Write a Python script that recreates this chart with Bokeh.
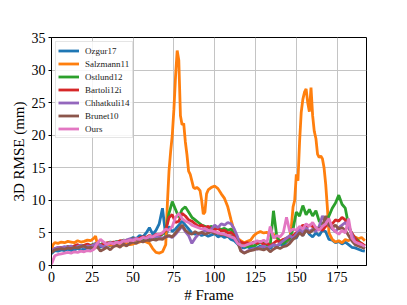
from bokeh.plotting import figure
from bokeh.models import Range1d, Legend, LegendItem, FixedTicker
from bokeh.embed import file_html
from bokeh.resources import INLINE

# ---------------- data ----------------
FRAMES = [0, 2, 4, 6, 8, 10, 12, 14, 16, 18,
          20, 22, 24, 26, 28, 30, 32, 34, 36, 38,
          40, 42, 44, 46, 48, 50, 52, 54, 56, 58,
          60, 62, 64, 66, 68, 70, 72, 74, 76, 78,
          80, 82, 84, 86, 88, 90, 92, 94, 96, 98,
          100, 102, 104, 106, 108, 110, 112, 114, 116, 118,
          120, 122, 124, 126, 128, 130, 132, 134, 136, 138,
          140, 142, 144, 146, 148, 150, 152, 154, 156, 158,
          160, 162, 164, 166, 168, 170, 172, 174, 176, 178,
          180, 182, 184, 186, 188, 190, 192]

ozgur17 = [1.8, 2.3, 2.2, 2.4, 2.3, 2.5, 2.3, 2.4, 2.6, 2.4,
           2.5, 2.7, 2.6, 2.9, 3.2, 2.8, 3.1, 3.3, 3.0, 3.4,
           3.6, 3.5, 3.8, 3.7, 4.0, 4.3, 4.1, 4.6, 4.4, 5.0,
           5.8, 4.8, 5.4, 6.4, 8.8, 4.5, 6.0, 5.2, 5.6, 6.2,
           6.8, 6.2, 5.6, 5.0, 4.8, 5.0, 4.6, 4.8, 4.5, 4.7,
           4.9, 4.4, 4.6, 4.3, 4.5, 4.0, 3.8, 3.3, 2.8, 2.7,
           2.9, 2.6, 2.8, 2.7, 3.0, 2.7, 2.9, 2.6, 3.2, 2.9,
           3.3, 3.1, 3.6, 3.9, 4.4, 4.2, 5.2, 4.6, 5.6, 4.8,
           4.4, 5.0, 4.6, 5.4, 5.2, 4.0, 3.9, 3.5, 3.7, 3.3,
           3.6, 3.2, 2.8, 2.7, 2.5, 2.3, 2.2]

ostlund12 = [2.0, 2.5, 2.6, 2.8, 2.7, 2.9, 2.8, 3.0, 2.9, 3.1,
             3.0, 3.2, 3.1, 3.3, 3.4, 3.2, 3.5, 3.3, 3.6, 3.5,
             3.7, 3.6, 3.9, 3.8, 4.0, 4.1, 3.9, 4.2, 4.0, 4.3,
             4.1, 4.4, 4.2, 4.5, 4.8, 5.5, 8.0, 9.8, 8.6, 7.4,
             8.6, 9.0, 8.2, 7.4, 7.0, 6.6, 6.2, 6.0, 5.8, 6.0,
             5.6, 5.8, 5.5, 5.7, 5.4, 5.6, 4.8, 3.8, 3.2, 3.0,
             2.9, 3.1, 3.0, 3.3, 3.5, 3.4, 3.2, 3.0, 8.4, 4.5,
             3.6, 3.4, 3.8, 4.2, 5.6, 8.2, 7.6, 9.2, 7.8, 8.6,
             7.6, 8.4, 6.8, 6.4, 6.6, 7.6, 8.8, 9.6, 10.8, 9.4,
             8.8, 6.2, 4.8, 4.2, 3.8, 3.3, 3.0]

bartoli12i = [2.2, 2.6, 2.7, 2.8, 2.6, 2.9, 2.8, 3.0, 3.2, 2.9,
              3.1, 3.3, 3.0, 3.2, 3.4, 3.1, 3.3, 3.5, 3.4, 3.6,
              3.5, 3.8, 3.7, 3.9, 3.8, 4.1, 4.0, 4.2, 4.4, 4.3,
              4.6, 4.4, 4.8, 4.6, 5.0, 5.4, 7.4, 7.8, 6.6, 6.8,
              8.0, 7.6, 7.0, 6.8, 6.4, 6.0, 6.2, 5.8, 6.0, 5.6,
              5.5, 5.7, 5.3, 5.4, 5.0, 5.1, 4.6, 4.0, 3.6, 3.4,
              3.5, 3.3, 3.6, 3.4, 3.7, 3.2, 3.5, 3.0, 3.4, 3.8,
              3.6, 4.0, 4.2, 4.4, 4.6, 5.0, 5.4, 6.2, 5.8, 6.2,
              6.0, 5.6, 5.8, 5.4, 6.0, 6.6, 6.4, 7.0, 6.8, 7.4,
              7.0, 5.8, 5.0, 4.2, 3.6, 3.4, 3.0]

chhatkuli14 = [2.3, 2.6, 2.8, 2.7, 2.9, 2.8, 3.0, 2.7, 2.9, 3.1,
               2.8, 3.0, 2.9, 3.2, 3.4, 3.1, 2.8, 3.3, 3.5, 3.4,
               3.6, 3.5, 3.8, 3.9, 4.1, 4.0, 4.2, 3.9, 4.3, 4.1,
               4.4, 4.2, 4.5, 4.3, 4.2, 4.4, 4.5, 4.3, 4.8, 5.4,
               6.0, 5.2, 4.6, 3.4, 4.2, 4.8, 5.0, 5.4, 5.2, 5.6,
               6.2, 5.8, 6.4, 6.2, 6.6, 6.4, 5.6, 4.4, 2.4, 1.9,
               2.2, 2.4, 2.6, 2.5, 2.8, 3.0, 2.7, 2.9, 3.2, 3.0,
               3.4, 3.8, 4.2, 4.6, 4.2, 4.8, 5.6, 5.0, 5.8, 5.2,
               5.6, 5.2, 6.0, 7.6, 6.8, 6.2, 5.6, 5.2, 5.8, 6.2,
               6.6, 6.0, 4.8, 3.6, 3.2, 3.0, 2.6]

brunet10 = [2.0, 2.4, 2.5, 2.6, 2.5, 2.7, 2.6, 2.8, 2.7, 2.9,
            3.0, 2.7, 2.8, 2.6, 2.9, 2.2, 2.5, 2.8, 2.4, 2.9,
            3.1, 2.8, 3.3, 3.0, 3.4, 3.6, 3.4, 3.8, 3.6, 3.9,
            3.8, 4.0, 3.9, 4.1, 4.0, 4.4, 4.6, 4.4, 5.0, 5.6,
            6.2, 5.4, 5.0, 4.8, 5.2, 4.9, 5.1, 4.8, 5.0, 5.2,
            4.9, 5.0, 4.7, 4.8, 4.5, 4.6, 4.2, 3.6, 2.2, 1.9,
            2.1, 2.3, 2.4, 2.6, 2.5, 2.4, 2.6, 2.1, 2.5, 2.8,
            2.6, 2.9, 3.0, 3.4, 4.0, 4.4, 5.0, 4.6, 5.4, 5.0,
            5.4, 5.8, 5.6, 6.0, 7.6, 6.2, 5.8, 6.2, 5.6, 5.8,
            5.4, 4.6, 3.8, 3.2, 3.0, 2.8, 2.6]

ours = [0.2, 1.5, 1.7, 1.8, 1.9, 2.0, 1.9, 2.1, 2.0, 2.2,
        2.1, 2.3, 2.2, 2.5, 3.4, 4.0, 3.6, 3.2, 3.5, 3.3,
        3.6, 3.4, 3.8, 3.7, 3.9, 3.8, 4.1, 4.0, 4.3, 4.2,
        4.5, 4.4, 4.7, 4.8, 5.0, 5.6, 5.4, 6.0, 7.4, 8.0,
        7.2, 6.8, 6.6, 6.2, 6.0, 5.8, 5.6, 5.7, 5.4, 5.3,
        5.2, 5.0, 4.9, 4.8, 4.6, 4.4, 4.2, 3.4, 3.1, 3.0,
        3.2, 3.4, 3.5, 3.8, 3.6, 3.9, 3.5, 6.0, 4.2, 4.6,
        4.4, 5.0, 7.4, 5.2, 5.6, 5.4, 6.0, 5.6, 6.4, 6.0,
        6.6, 5.8, 5.4, 6.0, 6.4, 7.2, 5.8, 5.2, 4.8, 5.4,
        5.0, 7.2, 4.2, 3.6, 3.4, 3.2, 2.9]

salz_frames = [0, 1, 2, 4, 6, 8, 10, 12, 14, 16, 18, 20, 22, 24, 26, 27, 28,
               30, 32, 34, 36, 38, 40, 42, 44, 46, 48, 50, 52, 54, 56, 58,
               60, 62, 64, 66, 68, 70, 71, 72, 73, 74, 75, 76, 77, 78, 79,
               80, 81, 82, 83, 84, 85, 86, 87, 88, 89, 90, 91, 92, 93, 94,
               95, 96, 98, 100, 102, 104, 106, 108, 110, 112, 114, 116, 118,
               120, 122, 124, 126, 128, 130, 132, 134, 136, 138, 140, 142,
               144, 146, 147, 148, 149, 150, 151, 152, 153, 154, 155, 156,
               157, 158, 159, 160, 161, 162, 163, 164, 165, 166, 167, 168,
               169, 170, 172, 174, 176, 178, 180, 182, 184, 186, 188, 190, 192]
salzmann11 = [2.4, 3.2, 3.5, 3.4, 3.6, 3.5, 3.7, 3.6, 3.5, 3.8, 3.6, 3.7, 3.9, 3.8, 4.2, 4.5, 3.4,
              3.2, 3.0, 3.3, 3.1, 3.2, 3.0, 3.3, 3.1, 3.4, 3.2, 3.3, 3.5, 3.6, 3.8, 3.6,
              3.4, 2.6, 2.0, 1.9, 2.1, 3.2, 9.5, 14.5, 17.5, 20.0, 24.0, 29.0, 33.0, 31.5, 23.0,
              21.6, 21.8, 19.0, 17.0, 14.5, 14.0, 13.0, 12.0, 11.8, 12.0, 11.8, 11.5, 10.0, 7.9, 8.2,
              11.0, 11.6, 12.0, 12.2, 11.8, 11.0, 10.3, 9.0, 7.0, 5.2, 4.2, 3.8, 3.5,
              3.7, 3.9, 4.6, 5.0, 5.2, 5.0, 5.1, 4.6, 4.8, 4.2, 3.8, 4.0,
              3.7, 4.2, 6.0, 9.0, 10.0, 14.0, 13.0, 19.0, 23.5, 25.5, 26.6, 27.1,
              25.0, 23.6, 27.3, 23.0, 20.6, 19.5, 17.1, 16.6, 16.8, 16.4, 15.0, 12.5,
              9.0, 5.0, 4.0, 3.6, 3.8, 3.5, 4.0, 3.8, 4.2, 4.4, 4.1, 4.3, 3.8]

X_TICKS = [0, 25, 50, 75, 100, 125, 150, 175]
Y_TICKS = [0, 5, 10, 15, 20, 25, 30, 35]

series = [
    ("Ozgur17", FRAMES, ozgur17, "#1f77b4"),
    ("Salzmann11", salz_frames, salzmann11, "#ff7f0e"),
    ("Ostlund12", FRAMES, ostlund12, "#2ca02c"),
    ("Bartoli12i", FRAMES, bartoli12i, "#d62728"),
    ("Chhatkuli14", FRAMES, chhatkuli14, "#9467bd"),
    ("Brunet10", FRAMES, brunet10, "#8c564b"),
    ("Ours", FRAMES, ours, "#e377c2"),
]

# ---------------- figure ----------------
FONT = "Liberation Serif"
p = figure(width=407, height=305, output_backend="svg", toolbar_location=None,
           x_range=Range1d(0, 193), y_range=Range1d(0, 35),
           min_border_left=51, min_border_right=41, min_border_top=37,
           min_border_bottom=34)
p.background_fill_color = "white"
p.border_fill_color = "white"
p.outline_line_color = "black"
p.outline_line_width = 1

for ax in (p.xaxis[0], p.yaxis[0]):
    ax.axis_line_color = "black"
    ax.major_tick_line_color = "black"
    ax.minor_tick_line_color = None
    ax.major_tick_in = 0
    ax.major_tick_out = 3
    ax.major_label_text_font = FONT
    ax.major_label_text_font_size = "14px"
    ax.major_label_text_color = "black"
    ax.axis_label_text_font = FONT
    ax.axis_label_text_font_size = "15px"
    ax.axis_label_text_font_style = "normal"
    ax.axis_label_text_color = "black"
    ax.major_label_standoff = 3
    ax.axis_label_standoff = 2

p.xaxis.ticker = FixedTicker(ticks=X_TICKS)
p.yaxis.ticker = FixedTicker(ticks=Y_TICKS)
p.xaxis.axis_label = "# Frame"
p.yaxis.axis_label = "3D RMSE (mm)"

p.xgrid.grid_line_color = "#c4c4c4"
p.ygrid.grid_line_color = "#c4c4c4"
p.xgrid.grid_line_width = 1
p.ygrid.grid_line_width = 1

items = []
for name, xs, ys, col in series:
    r = p.line(xs, ys, line_color=col, line_width=2.8)
    items.append(LegendItem(label=name, renderers=[r]))

legend = Legend(items=items, location="top_left")
legend.label_text_font = FONT
legend.label_text_font_size = "9px"
legend.label_text_color = "#222222"
legend.glyph_width = 21
legend.glyph_height = 13
legend.label_height = 13
legend.label_standoff = 6
legend.spacing = 0
legend.padding = 2
legend.margin = 4
legend.border_line_color = "#cccccc"
legend.border_line_width = 1
legend.background_fill_alpha = 0.85
p.add_layout(legend)

open("out.html", "w").write(file_html(p, INLINE))
